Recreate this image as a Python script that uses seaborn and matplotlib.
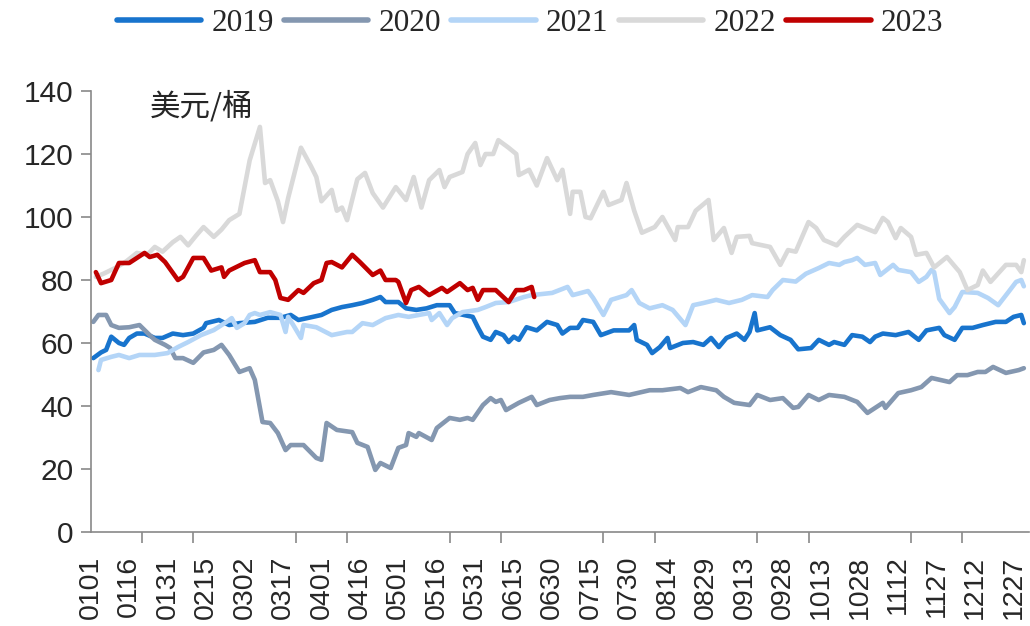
import matplotlib
matplotlib.use("Agg")
import matplotlib.pyplot as plt
import numpy as np
import pandas as pd
import seaborn as sns
from matplotlib.lines import Line2D

# ---------------- data (day of year, price in USD/bbl) ----------------
years = ["2019", "2020", "2021", "2022", "2023"]
colors = ["#1874CD", "#8497B0", "#B4D5F7", "#D9D9D9", "#C00000"]
tick_labels = ["0101", "0116", "0131", "0215", "0302", "0317", "0401", "0416",
               "0501", "0516", "0531", "0615", "0630", "0715", "0730", "0814",
               "0829", "0913", "0928", "1013", "1028", "1112", "1127", "1212", "1227"]

d2019 = [1, 4, 6, 8, 11, 13, 15, 18, 21, 25, 28, 32, 36, 40, 44, 45, 50, 54, 58, 64,
         69, 74, 78, 81, 85, 90, 94, 98, 102, 106, 110, 113, 115, 120, 123, 127, 131,
         135, 140, 142, 149, 151, 153, 156, 158, 161, 163, 165, 167, 170, 174, 178,
         182, 184, 187, 190, 192, 196, 199, 204, 210, 212, 213, 217, 219, 222, 225,
         226, 231, 235, 239, 242, 245, 248, 252, 255, 257, 259, 260, 265, 269, 273,
         276, 281, 284, 288, 290, 294, 297, 301, 304, 306, 309, 314, 319, 323, 326,
         331, 333, 337, 340, 344, 348, 353, 357, 360, 363, 364]
v2019 = [55.2, 57, 57.8, 62, 60, 59.4, 61.6, 63, 63, 61.6, 61.6, 63, 62.5, 63, 64.8,
         66.3, 67.3, 65.7, 66.3, 66.7, 68, 68, 68.9, 67.3, 68, 68.9, 70.5, 71.4, 72,
         72.7, 73.7, 74.6, 73, 73, 71, 70.5, 71, 72, 72, 69.5, 68.3, 65, 62, 61, 63.5,
         62.5, 60.3, 62, 61, 65, 64, 66.7, 65.7, 63, 64.8, 64.8, 67.3, 66.7, 62.5, 64,
         64, 65.7, 61, 59.4, 56.8, 58.7, 61.6, 58.4, 60, 60.3, 59.4, 61.6, 58.7, 61.6,
         63, 61, 63.5, 69.5, 64, 65, 62.5, 61, 58, 58.4, 61, 59.4, 60.3, 59.4, 62.5,
         62, 60.3, 62, 63, 62.5, 63.5, 61, 64, 64.8, 62.5, 61, 64.8, 64.8, 65.7, 66.7,
         66.7, 68.3, 68.9, 66.3]

d2020 = [1, 3, 6, 8, 11, 15, 19, 23, 25, 29, 31, 33, 36, 40, 44, 48, 51, 54, 58, 62,
         64, 67, 70, 73, 76, 78, 83, 88, 90, 92, 96, 102, 104, 108, 111, 113, 117,
         120, 123, 124, 127, 128, 133, 135, 140, 144, 147, 149, 153, 156, 158, 160,
         162, 167, 172, 174, 179, 183, 187, 192, 196, 203, 210, 218, 223, 230, 233,
         238, 244, 247, 251, 257, 260, 265, 270, 274, 276, 280, 284, 288, 294, 299,
         303, 309, 310, 315, 320, 324, 328, 335, 338, 342, 346, 349, 352, 357, 362, 364]
v2020 = [66.7, 68.9, 68.9, 65.7, 64.8, 65, 65.7, 62.5, 61, 59.4, 58.4, 55.2, 55.2,
         53.7, 57, 57.8, 59.4, 56.2, 50.8, 52, 48.3, 34.9, 34.6, 31.4, 26, 27.6, 27.6,
         23.5, 22.9, 34.6, 32.4, 31.7, 28.3, 27, 19.7, 21.9, 20.3, 26.7, 27.6, 31.4,
         30.2, 31.4, 29.2, 33, 36.2, 35.6, 36.2, 35.6, 40.3, 42.5, 41.3, 41.9, 38.7,
         41, 42.9, 40.3, 41.9, 42.5, 42.9, 42.9, 43.5, 44.4, 43.5, 45, 45, 45.7, 44.4,
         46, 45, 42.9, 41, 40.3, 43.5, 41.9, 42.5, 39.4, 39.7, 43.5, 41.9, 43.5, 42.9,
         41.3, 37.8, 41, 39.4, 44.1, 45, 46, 48.9, 47.6, 49.8, 49.8, 50.8, 50.8, 52.4,
         50.5, 51.4, 52]

d2021 = [3, 4, 8, 11, 15, 19, 25, 30, 34, 38, 43, 48, 53, 55, 57, 60, 62, 64, 66, 70,
         74, 76, 77, 79, 82, 83, 88, 94, 100, 102, 106, 110, 115, 120, 124, 128, 132,
         133, 136, 139, 141, 145, 151, 154, 158, 163, 169, 172, 180, 186, 188, 194,
         196, 200, 203, 209, 211, 214, 218, 223, 227, 232, 235, 239, 244, 249, 254,
         258, 264, 266, 270, 275, 279, 284, 288, 292, 294, 297, 299, 302, 306, 308,
         313, 315, 320, 323, 326, 328, 329, 331, 335, 337, 340, 346, 350, 354, 358,
         361, 363, 364]
v2021 = [51.4, 54.6, 55.6, 56.2, 55.2, 56.2, 56.2, 56.8, 58.7, 60.3, 62.5, 64.1, 66.7,
         67.9, 64.8, 66.3, 68.9, 69.5, 68.9, 69.8, 68.9, 63.5, 68.3, 65.7, 61.6, 65.7,
         65, 62.5, 63.5, 63.5, 66.3, 65.7, 67.9, 68.9, 68.3, 68.9, 69.5, 67.3, 69.5,
         65.7, 67.9, 69.8, 70.5, 71.4, 72.7, 73, 74.6, 75.2, 75.9, 77.8, 75.2, 76.5,
         74.3, 68.9, 73.7, 75.2, 76.8, 72.7, 71, 72, 70.5, 65.7, 72, 72.7, 73.7, 72.7,
         73.7, 75.2, 74.6, 76.8, 80, 79.5, 82, 83.8, 85.4, 84.8, 85.7, 86.3, 87, 84.8,
         85.4, 81.6, 84.8, 83.2, 82.5, 79.4, 81, 83.2, 82.5, 74, 69.5, 71.4, 76.2,
         75.9, 74.3, 72, 76.2, 79.4, 80, 78]

d2022 = [2, 5, 10, 14, 18, 22, 25, 28, 32, 35, 38, 41, 44, 48, 51, 54, 58, 60, 62, 66,
         68, 70, 73, 75, 77, 82, 84, 86, 88, 90, 94, 96, 98, 100, 104, 107, 110, 114,
         119, 123, 126, 129, 132, 136, 138, 140, 145, 147, 150, 152, 154, 157, 159,
         163, 166, 167, 171, 174, 178, 182, 184, 187, 188, 191, 193, 195, 200, 202,
         207, 209, 212, 215, 220, 223, 228, 229, 233, 236, 241, 243, 247, 250, 252,
         257, 258, 265, 269, 272, 275, 280, 283, 286, 291, 294, 299, 306, 309, 311,
         314, 316, 320, 322, 326, 329, 334, 339, 342, 346, 348, 351, 357, 361, 363, 364]
v2022 = [81, 82, 84, 86, 88.6, 88, 90.5, 89, 92, 93.7, 91, 94, 96.8, 93.7, 96, 99, 101,
         109.5, 118, 128.6, 110.8, 111.7, 105, 98.4, 106, 122, 119, 116, 112.7, 105,
         108.6, 102, 103, 99, 112, 114, 107.6, 103, 109.5, 105.4, 112.7, 103, 111.7,
         114.9, 109.5, 112.7, 114.3, 120, 123.5, 116.5, 120, 120, 124.4, 122, 120,
         113.3, 115, 110, 118.7, 111.7, 115, 101, 108, 108, 100, 99.6, 108, 103.8,
         105.4, 110.8, 102, 95, 96.8, 100, 92.7, 96.8, 96.8, 102, 105.4, 92.7, 96.5,
         88.6, 93.7, 94, 91.7, 90.5, 84.8, 89.5, 89, 98.4, 96.5, 92.7, 91, 93.7, 97.5,
         95.2, 99.7, 98.4, 93.3, 96.5, 93.7, 88, 88.6, 84, 87.3, 82.5, 76.8, 78.4, 83,
         79.4, 84.8, 84.8, 82.5, 86.3]

d2023 = [2, 4, 8, 11, 15, 18, 21, 23, 26, 29, 34, 36, 40, 44, 47, 51, 52, 54, 60, 64,
         66, 70, 72, 74, 77, 81, 83, 87, 90, 92, 94, 98, 102, 105, 110, 113, 115, 119,
         120, 123, 125, 128, 132, 137, 139, 144, 147, 149, 151, 153, 158, 163, 166,
         169, 172, 173]
v2023 = [82.5, 79, 80, 85.4, 85.4, 87, 88.6, 87.3, 88, 85.7, 80, 81, 87, 87, 83, 84,
         81, 83, 85.4, 86.3, 82.5, 82.5, 80, 74.3, 73.7, 76.8, 75.9, 79, 80, 85.4, 85.7,
         84, 88, 85.7, 81.6, 83, 80, 80, 79.4, 72.7, 76.8, 77.8, 75.2, 77.5, 76.2, 79,
         76.8, 77.5, 73.7, 76.8, 76.8, 73, 76.8, 76.8, 77.8, 74.6]

series_days = [d2019, d2020, d2021, d2022, d2023]
series_vals = [v2019, v2020, v2021, v2022, v2023]

df = pd.concat(
    [pd.DataFrame({"day": d, "price": v, "year": y})
     for y, d, v in zip(years, series_days, series_vals)],
    ignore_index=True)

tick_days = [pd.Timestamp("2023" + t).dayofyear - 1 for t in tick_labels]

# ---------------- style ----------------
sns.set_style("white")
plt.rcParams["font.family"] = ["Liberation Sans", "DejaVu Sans"]
spine_col = "#898989"

fig = plt.figure(figsize=(10.30, 6.26), dpi=100)
ax = fig.add_axes([0.0881, 0.1502, 0.9109, 0.7044])

sns.lineplot(data=df, x="day", y="price", hue="year", hue_order=years,
             palette=dict(zip(years, colors)), linewidth=3.3,
             estimator=None, sort=False, legend=False, ax=ax)
for ln in ax.lines:
    ln.set_solid_joinstyle("round")
    ln.set_solid_capstyle("round")

ax.set_xlim(0, 366)
ax.set_ylim(0, 140)
ax.set_xlabel("")
ax.set_ylabel("")

ax.set_yticks(np.arange(0, 141, 20))
ax.tick_params(axis="y", labelsize=21.5, length=7.5, width=1.2, color=spine_col,
               direction="out", pad=5, left=True)

ax.set_xticks(tick_days)
ax.set_xticklabels(tick_labels, rotation=90)
ax.set_xticks(np.arange(0, 366, 20), minor=True)
ax.tick_params(axis="x", which="major", labelsize=20.5, length=0, pad=17)
ax.tick_params(axis="x", which="minor", length=8, width=1.2, color=spine_col,
               direction="out", bottom=True)

for s in ["top", "right"]:
    ax.spines[s].set_visible(False)
for s in ["left", "bottom"]:
    ax.spines[s].set_color(spine_col)
    ax.spines[s].set_linewidth(1.2)

ax.text(0.063, 0.965, "美元/桶", transform=ax.transAxes, ha="left", va="center",
        fontsize=22, family=["Noto Sans CJK SC", "DejaVu Sans"])

handles = [Line2D([0], [0], color=c, lw=4, solid_capstyle="round") for c in colors]
fig.legend(handles, years, loc="center", bbox_to_anchor=(0.5146, 0.962), ncol=5,
           frameon=False, prop={"family": "Liberation Serif", "size": 22.5},
           handlelength=2.7, handletextpad=0.33, columnspacing=0.33,
           borderaxespad=0, borderpad=0)

fig.savefig("out.png", dpi=100)
